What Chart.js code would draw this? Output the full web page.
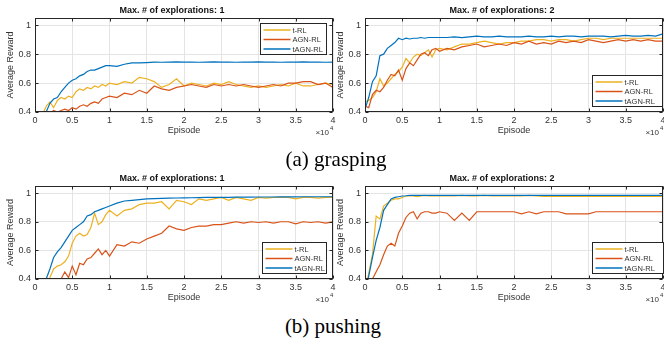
<!DOCTYPE html>
<html>
<head>
<meta charset="utf-8">
<script src="https://cdn.jsdelivr.net/npm/chart.js@4/dist/chart.umd.min.js"></script>
<style>
  body { margin: 0; background: #fff; width: 664px; height: 344px; position: relative; overflow: hidden; }
  canvas { position: absolute; }
  .cap { position: absolute; font-family: "Liberation Serif", "DejaVu Serif", serif; font-size: 21px; line-height: 21px; color: #000; transform: translate(-50%, -50%); white-space: nowrap; }
</style>
</head>
<body>
<canvas id="grasp1" width="345" height="140" style="left:0px;top:0px"></canvas>
<canvas id="grasp2" width="334" height="140" style="left:330px;top:0px"></canvas>
<canvas id="push1" width="345" height="139" style="left:0px;top:168px"></canvas>
<canvas id="push2" width="334" height="139" style="left:330px;top:168px"></canvas>
<div class="cap" style="left:336px;top:159px">(a) grasping</div>
<div class="cap" style="left:333px;top:326px">(b) pushing</div>
<script>
// episodes in units of 10^4
const episodes = [0, 0.05, 0.1, 0.15, 0.2, 0.25, 0.3, 0.35, 0.4, 0.45, 0.5, 0.55, 0.6, 0.65, 0.7, 0.75, 0.8, 0.85, 0.9, 0.95, 1.0,
  1.1, 1.2, 1.3, 1.4, 1.5, 1.6, 1.7, 1.8, 1.9, 2.0,
  2.1, 2.2, 2.3, 2.4, 2.5, 2.6, 2.7, 2.8, 2.9, 3.0,
  3.1, 3.2, 3.3, 3.4, 3.5, 3.6, 3.7, 3.8, 3.9, 4.0];
const xTicks = [0, 0.5, 1, 1.5, 2, 2.5, 3, 3.5, 4];
const yTicks = [0.4, 0.6, 0.8, 1];
const seriesLabels = ['t-RL', 'AGN-RL', 'tAGN-RL'];
const seriesColors = ['#EDB120', '#D95319', '#0072BD'];

// grasping, max explorations 1
const grasp1TRL = [0.30, 0.34, 0.38, 0.44, 0.47, 0.43, 0.48, 0.50, 0.49, 0.51, 0.50, 0.54, 0.56, 0.55, 0.57, 0.56, 0.58, 0.57, 0.59, 0.58, 0.60,
  0.59, 0.61, 0.60, 0.64, 0.63, 0.61, 0.57, 0.59, 0.63, 0.58,
  0.60, 0.59, 0.58, 0.60, 0.59, 0.61, 0.59, 0.58, 0.57, 0.58,
  0.57, 0.58, 0.59, 0.58, 0.60, 0.58, 0.58, 0.59, 0.60, 0.59];
const grasp1AGN = [0.30, 0.33, 0.36, 0.38, 0.39, 0.41, 0.40, 0.41, 0.42, 0.41, 0.43, 0.42, 0.44, 0.45, 0.44, 0.46, 0.47, 0.46, 0.49, 0.50, 0.51,
  0.50, 0.53, 0.52, 0.55, 0.53, 0.58, 0.56, 0.55, 0.57, 0.58,
  0.59, 0.58, 0.57, 0.59, 0.58, 0.59, 0.58, 0.59, 0.58, 0.57,
  0.58, 0.59, 0.58, 0.60, 0.60, 0.61, 0.61, 0.59, 0.60, 0.57];
const grasp1TAGN = [0.28, 0.32, 0.36, 0.40, 0.46, 0.49, 0.50, 0.54, 0.57, 0.60, 0.62, 0.63, 0.65, 0.66, 0.68, 0.69, 0.69, 0.70, 0.71, 0.72, 0.72,
  0.715, 0.73, 0.74, 0.74, 0.742, 0.745, 0.744, 0.745, 0.746, 0.745,
  0.745, 0.744, 0.745, 0.746, 0.745, 0.745, 0.744, 0.745, 0.745, 0.746,
  0.745, 0.745, 0.744, 0.745, 0.745, 0.746, 0.745, 0.745, 0.744, 0.745];

// grasping, max explorations 2
const grasp2TRL = [0.47, 0.48, 0.50, 0.54, 0.63, 0.58, 0.60, 0.63, 0.66, 0.68, 0.71, 0.77, 0.74, 0.78, 0.80, 0.79, 0.81, 0.83, 0.78, 0.83, 0.84,
  0.83, 0.85, 0.87, 0.87, 0.88, 0.89, 0.88, 0.87, 0.88, 0.88,
  0.89, 0.89, 0.90, 0.90, 0.89, 0.90, 0.90, 0.89, 0.90, 0.91,
  0.91, 0.90, 0.91, 0.91, 0.91, 0.91, 0.91, 0.91, 0.91, 0.91];
const grasp2AGN = [0.44, 0.43, 0.52, 0.55, 0.54, 0.57, 0.62, 0.66, 0.65, 0.69, 0.62, 0.70, 0.74, 0.72, 0.76, 0.80, 0.81, 0.79, 0.83, 0.84, 0.82,
  0.84, 0.83, 0.85, 0.86, 0.87, 0.85, 0.86, 0.87, 0.86, 0.88,
  0.87, 0.89, 0.87, 0.88, 0.87, 0.89, 0.88, 0.89, 0.88, 0.90,
  0.89, 0.88, 0.89, 0.90, 0.89, 0.90, 0.89, 0.90, 0.89, 0.89];
const grasp2TAGN = [0.42, 0.50, 0.61, 0.65, 0.79, 0.80, 0.84, 0.86, 0.88, 0.91, 0.90, 0.91, 0.905, 0.91, 0.91, 0.915, 0.91, 0.915, 0.915, 0.915, 0.915,
  0.915, 0.92, 0.915, 0.92, 0.925, 0.92, 0.92, 0.925, 0.92, 0.92,
  0.92, 0.925, 0.92, 0.92, 0.925, 0.92, 0.925, 0.925, 0.92, 0.925,
  0.925, 0.925, 0.92, 0.925, 0.93, 0.925, 0.925, 0.93, 0.925, 0.94];

// pushing, max explorations 1
const push1TRL = [0.25, 0.29, 0.33, 0.37, 0.41, 0.47, 0.49, 0.50, 0.52, 0.56, 0.65, 0.70, 0.72, 0.70, 0.71, 0.76, 0.86, 0.78, 0.80, 0.85, 0.88,
  0.84, 0.88, 0.89, 0.92, 0.93, 0.93, 0.94, 0.89, 0.95, 0.94,
  0.92, 0.96, 0.95, 0.96, 0.97, 0.95, 0.97, 0.96, 0.95, 0.97,
  0.965, 0.97, 0.97, 0.97, 0.96, 0.97, 0.97, 0.965, 0.97, 0.97];
const push1AGN = [0.20, 0.24, 0.28, 0.31, 0.34, 0.36, 0.38, 0.40, 0.45, 0.41, 0.49, 0.43, 0.51, 0.50, 0.54, 0.55, 0.58, 0.61, 0.57, 0.60, 0.56,
  0.64, 0.63, 0.66, 0.65, 0.68, 0.70, 0.72, 0.77, 0.75, 0.74,
  0.76, 0.77, 0.77, 0.78, 0.78, 0.79, 0.80, 0.79, 0.80, 0.795,
  0.80, 0.79, 0.80, 0.80, 0.785, 0.80, 0.795, 0.80, 0.79, 0.80];
const push1TAGN = [0.25, 0.29, 0.34, 0.40, 0.47, 0.55, 0.59, 0.62, 0.66, 0.70, 0.74, 0.76, 0.78, 0.80, 0.84, 0.85, 0.87, 0.88, 0.89, 0.90, 0.91,
  0.93, 0.945, 0.95, 0.955, 0.96, 0.962, 0.964, 0.965, 0.966, 0.967,
  0.968, 0.969, 0.97, 0.97, 0.97, 0.971, 0.972, 0.972, 0.972, 0.973,
  0.973, 0.973, 0.974, 0.974, 0.974, 0.975, 0.975, 0.975, 0.975, 0.975];

// pushing, max explorations 2
const push2TRL = [0.30, 0.44, 0.57, 0.84, 0.82, 0.91, 0.93, 0.95, 0.96, 0.96, 0.97, 0.98, 0.98, 0.98, 0.975, 0.98, 0.985, 0.98, 0.98, 0.98, 0.98,
  0.98, 0.98, 0.985, 0.98, 0.98, 0.985, 0.98, 0.98, 0.98, 0.98,
  0.98, 0.985, 0.98, 0.978, 0.978, 0.978, 0.978, 0.978, 0.978, 0.978,
  0.978, 0.978, 0.978, 0.978, 0.978, 0.978, 0.978, 0.978, 0.978, 0.978];
const push2AGN = [0.30, 0.34, 0.40, 0.45, 0.50, 0.57, 0.63, 0.65, 0.63, 0.72, 0.77, 0.83, 0.86, 0.87, 0.82, 0.86, 0.87, 0.87, 0.86, 0.86, 0.87,
  0.86, 0.81, 0.86, 0.81, 0.87, 0.87, 0.87, 0.87, 0.87, 0.87,
  0.855, 0.87, 0.855, 0.87, 0.87, 0.87, 0.855, 0.855, 0.855, 0.855,
  0.87, 0.87, 0.87, 0.87, 0.87, 0.87, 0.87, 0.87, 0.87, 0.87];
const push2TAGN = [0.30, 0.42, 0.55, 0.67, 0.76, 0.88, 0.92, 0.96, 0.97, 0.975, 0.98, 0.982, 0.985, 0.985, 0.985, 0.985, 0.985, 0.985, 0.985, 0.985, 0.985,
  0.985, 0.985, 0.985, 0.985, 0.985, 0.985, 0.985, 0.985, 0.985, 0.985,
  0.985, 0.985, 0.985, 0.985, 0.985, 0.985, 0.985, 0.985, 0.985, 0.985,
  0.985, 0.985, 0.985, 0.985, 0.985, 0.985, 0.985, 0.985, 0.985, 0.985];

const axisColor = '#262626';
const textColor = '#333';
const gridColor = '#e4e4e4';
const fontFamily = '"Liberation Sans", Arial, Helvetica, sans-serif';

// MATLAB-like box, inward ticks, title, x10^4 and legend
const matlabAxes = {
  id: 'matlabAxes',
  afterDraw(chart, args, o) {
    const {ctx, chartArea: a, scales: {x, y}} = chart;
    const L = Math.round(a.left) + 0.5, R = Math.round(a.right) - 0.5;
    const T = Math.round(a.top) + 0.5, B = Math.round(a.bottom) - 0.5;
    ctx.save();
    ctx.strokeStyle = axisColor;
    ctx.lineWidth = 1;
    ctx.strokeRect(L, T, R - L, B - T);
    ctx.beginPath();
    x.ticks.forEach(t => {
      const px = Math.round(x.getPixelForValue(t.value)) + 0.5;
      ctx.moveTo(px, B); ctx.lineTo(px, B - 3);
      ctx.moveTo(px, T); ctx.lineTo(px, T + 3);
    });
    y.ticks.forEach(t => {
      const py = Math.round(y.getPixelForValue(t.value)) + 0.5;
      ctx.moveTo(L, py); ctx.lineTo(L + 3, py);
      ctx.moveTo(R, py); ctx.lineTo(R - 3, py);
    });
    ctx.stroke();

    // title
    ctx.fillStyle = '#111';
    ctx.font = 'bold 9px ' + fontFamily;
    ctx.textAlign = 'center';
    ctx.textBaseline = 'middle';
    ctx.fillText(o.title, (a.left + a.right) / 2 - 12, a.top - 7);

    // exponent
    ctx.fillStyle = textColor;
    ctx.font = '8px ' + fontFamily;
    ctx.textAlign = 'right';
    ctx.fillText('\u00d710', a.right - 4, a.bottom + 21);
    ctx.font = '6px ' + fontFamily;
    ctx.textAlign = 'left';
    ctx.fillText('4', a.right - 3, a.bottom + 16);

    // legend
    const lg = o.legend;
    const w = lg.width, h = 31;
    const lx = Math.round(a.right - lg.inset - w) + 0.5;
    const ly = (lg.corner === 'ne' ? Math.round(a.top + 5) : Math.round(a.bottom - 6 - h)) + 0.5;
    ctx.fillStyle = '#fff';
    ctx.fillRect(lx, ly, w, h);
    ctx.strokeStyle = axisColor;
    ctx.strokeRect(lx, ly, w, h);
    ctx.font = '7.5px ' + fontFamily;
    ctx.textBaseline = 'middle';
    chart.data.datasets.forEach((ds, i) => {
      const ry = ly + 6.5 + i * 9.5;
      ctx.strokeStyle = ds.borderColor;
      ctx.lineWidth = 1.5;
      ctx.beginPath();
      ctx.moveTo(lx + 3, ry); ctx.lineTo(lx + 30, ry);
      ctx.stroke();
      ctx.fillStyle = textColor;
      ctx.fillText(ds.label, lx + 32, ry + 0.5);
    });
    ctx.restore();
  }
};

function makeChart(id, series, title, legend, padRight) {
  return new Chart(document.getElementById(id), {
    type: 'line',
    data: {
      datasets: seriesLabels.map((label, i) => ({
        label: label,
        data: episodes.map((ep, j) => ({x: ep, y: series[i][j]})),
        borderColor: seriesColors[i],
        borderWidth: 1.2,
        pointRadius: 0,
        tension: 0,
        fill: false,
        order: 2 - i // later series on top, like MATLAB
      }))
    },
    options: {
      responsive: false,
      animation: false,
      devicePixelRatio: 1,
      events: [],
      layout: {padding: {top: 18, right: padRight, left: 0, bottom: 0}},
      plugins: {
        legend: {display: false},
        tooltip: {enabled: false},
        title: {display: false},
        matlabAxes: {title: title, legend: legend}
      },
      scales: {
        x: {
          type: 'linear', min: 0, max: 4,
          afterBuildTicks: s => { s.ticks = xTicks.map(v => ({value: v})); },
          afterFit: s => { s.height = 28; s.paddingLeft = 0; s.paddingRight = 0; },
          ticks: {maxRotation: 0, autoSkip: false, padding: 3, color: textColor,
            font: {family: fontFamily, size: 9}, callback: v => String(+(+v).toFixed(2))},
          grid: {color: gridColor, drawTicks: false},
          border: {display: false},
          title: {display: true, text: 'Episode', color: textColor,
            font: {family: fontFamily, size: 9}, padding: {top: 0, bottom: 3.6}}
        },
        y: {
          min: 0.4, max: 1.05,
          afterBuildTicks: s => { s.ticks = yTicks.map(v => ({value: v})); },
          afterFit: s => { s.width = 35; },
          ticks: {padding: 4, color: textColor, font: {family: fontFamily, size: 9},
            callback: v => String(+(+v).toFixed(2))},
          grid: {color: gridColor, drawTicks: false},
          border: {display: false},
          title: {display: true, text: 'Average Reward', color: textColor,
            font: {family: fontFamily, size: 9}, padding: {top: 5, bottom: 0}}
        }
      }
    },
    plugins: [matlabAxes]
  });
}

makeChart('grasp1', [grasp1TRL, grasp1AGN, grasp1TAGN], 'Max. # of explorations: 1', {corner: 'ne', width: 66, inset: 7}, 12);
makeChart('grasp2', [grasp2TRL, grasp2AGN, grasp2TAGN], 'Max. # of explorations: 2', {corner: 'se', width: 70, inset: 1}, 1);
makeChart('push1', [push1TRL, push1AGN, push1TAGN], 'Max. # of explorations: 1', {corner: 'se', width: 64, inset: 7}, 12);
makeChart('push2', [push2TRL, push2AGN, push2TAGN], 'Max. # of explorations: 2', {corner: 'se', width: 71, inset: 0}, 1);
</script>
</body>
</html>
